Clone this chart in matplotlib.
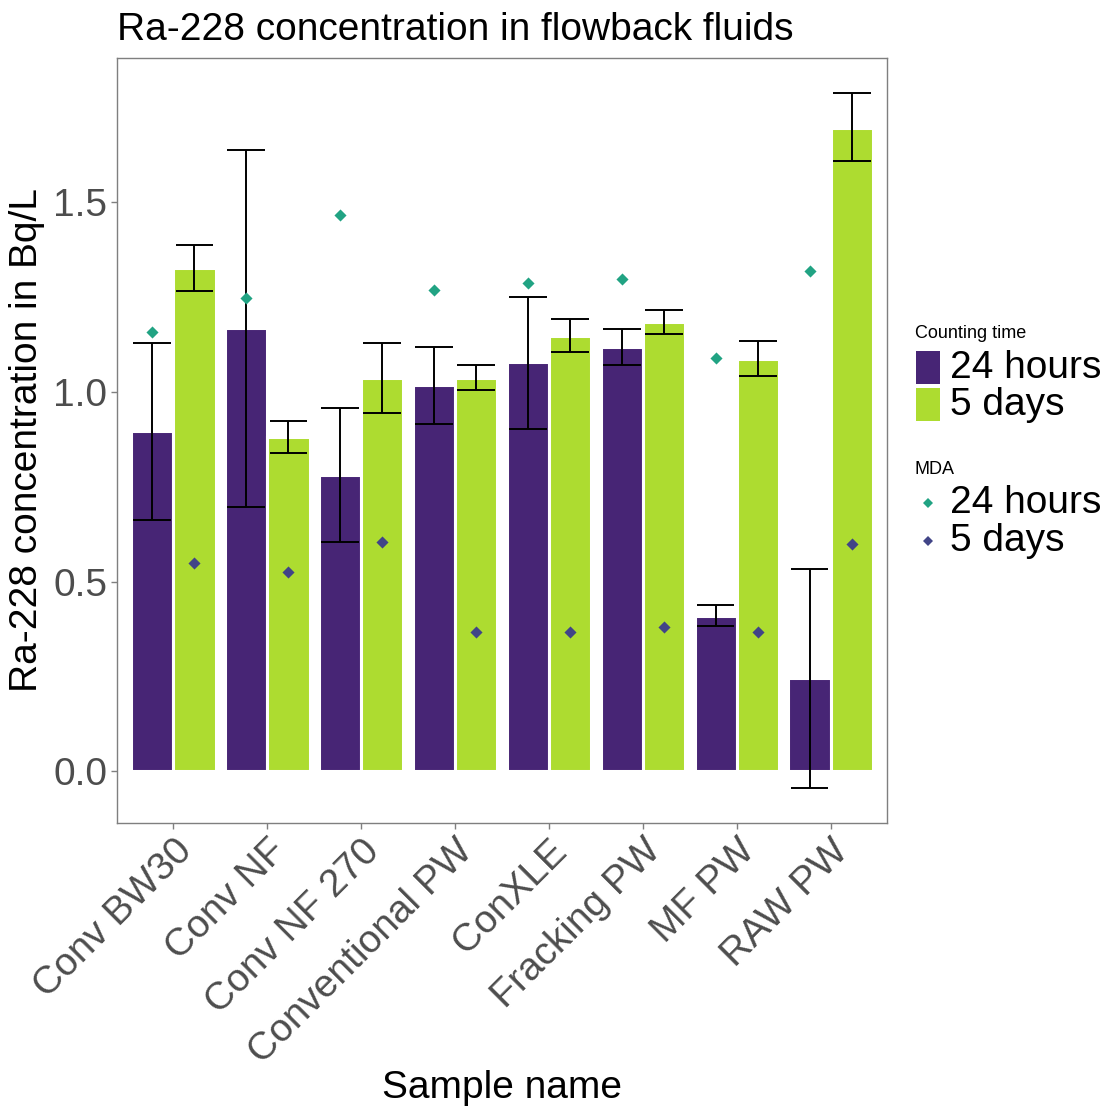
import matplotlib.pyplot as plt
import numpy as np
from matplotlib.patches import Rectangle

plt.rcParams["font.family"] = ["Liberation Sans", "DejaVu Sans"]

samples = ["Conv BW30", "Conv NF", "Conv NF 270", "Conventional PW",
           "ConXLE", "Fracking PW", "MF PW", "RAW PW"]

conc_24h = [0.897, 1.168, 0.782, 1.018, 1.079, 1.118, 0.410, 0.245]
low_24h = [0.663, 0.697, 0.603, 0.916, 0.903, 1.071, 0.382, -0.045]
high_24h = [1.129, 1.637, 0.958, 1.118, 1.250, 1.166, 0.439, 0.534]

conc_5d = [1.326, 0.882, 1.037, 1.037, 1.147, 1.184, 1.087, 1.697]
low_5d = [1.266, 0.839, 0.945, 1.005, 1.105, 1.153, 1.042, 1.608]
high_5d = [1.387, 0.924, 1.129, 1.071, 1.192, 1.216, 1.134, 1.789]

mda_24h = [1.158, 1.247, 1.468, 1.268, 1.287, 1.297, 1.089, 1.318]
mda_5d = [0.550, 0.526, 0.605, 0.366, 0.366, 0.379, 0.366, 0.600]

PURPLE = "#472575"
LIME = "#ADDC30"
TEAL = "#21A383"
NAVY = "#414487"
GREY_TXT = "#4D4D4D"
GREY_LINE = "#7F7F7F"
FS = 28

W, H = 1107, 1108
fig = plt.figure(figsize=(W / 100, H / 100), dpi=100)
ax = fig.add_axes([117 / W, (H - 823) / H, 770 / W, 765 / H])

x = np.arange(1, len(samples) + 1)
dodge = 0.225
bar_w = 0.45
cap = 0.2

ax.bar(x - dodge, conc_24h, width=bar_w, color=PURPLE, edgecolor="white", linewidth=2.2, zorder=2)
ax.bar(x + dodge, conc_5d, width=bar_w, color=LIME, edgecolor="white", linewidth=2.2, zorder=2)

for xs, lo, hi in [(x - dodge, low_24h, high_24h), (x + dodge, low_5d, high_5d)]:
    ax.vlines(xs, lo, hi, color="black", linewidth=1.4, zorder=3)
    ax.hlines(lo, xs - cap, xs + cap, color="black", linewidth=1.4, zorder=3)
    ax.hlines(hi, xs - cap, xs + cap, color="black", linewidth=1.4, zorder=3)

ax.scatter(x - dodge, mda_24h, marker="D", s=38, color=TEAL, linewidths=0, zorder=4)
ax.scatter(x + dodge, mda_5d, marker="D", s=38, color=NAVY, linewidths=0, zorder=4)

ax.set_xlim(0.4, 8.6)
ax.set_ylim(-0.137, 1.881)
ax.set_xticks(x)
ax.set_xticklabels(samples, rotation=45, ha="right", va="top",
                   rotation_mode="anchor", fontsize=FS, color=GREY_TXT)
ax.set_yticks([0.0, 0.5, 1.0, 1.5])
ax.set_yticklabels(["0.0", "0.5", "1.0", "1.5"], fontsize=FS, color=GREY_TXT)
ax.tick_params(axis="both", length=4, width=1, color=GREY_LINE, pad=3)
for sp in ax.spines.values():
    sp.set_color(GREY_LINE)
    sp.set_linewidth(1)

ax.set_ylabel("Ra-228 concentration in Bq/L", fontsize=FS, labelpad=6)
fig.text(502 / W, 1 - 1098 / H, "Sample name", fontsize=FS, ha="center", va="baseline")
fig.text(117 / W, 1 - 40 / H, "Ra-228 concentration in flowback fluids",
         fontsize=FS, ha="left", va="baseline")

# legends, drawn in figure pixel coordinates
leg = fig.add_axes([0, 0, 1, 1], facecolor="none")
leg.set_xlim(0, W)
leg.set_ylim(H, 0)
leg.axis("off")

leg.text(915, 333, "Counting time", fontsize=13, ha="left", va="center")
for (y0, col, lab) in [(351, PURPLE, "24 hours"), (388, LIME, "5 days")]:
    leg.add_patch(Rectangle((916, y0), 24, 33, color=col, linewidth=0))
    leg.text(950, y0 + 17, lab, fontsize=FS, ha="left", va="center")

leg.text(915, 469, "MDA", fontsize=13, ha="left", va="center")
for (yc, col, lab) in [(503, TEAL, "24 hours"), (541, NAVY, "5 days")]:
    leg.plot([928], [yc], marker="D", markersize=5, color=col, markeredgewidth=0)
    leg.text(950, yc, lab, fontsize=FS, ha="left", va="center")

fig.savefig("out.png", dpi=100, facecolor="white")
